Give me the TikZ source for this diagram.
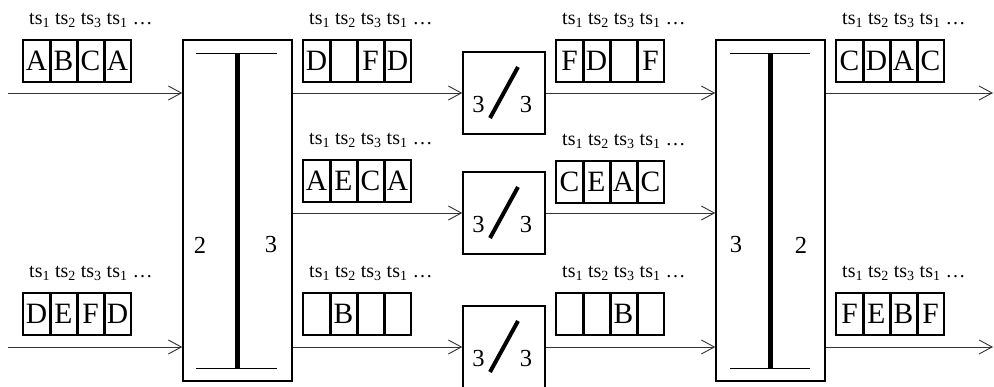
\documentclass[tikz,border=0pt]{standalone}
\usepackage{fontspec}
\setmainfont{Liberation Serif}
\usetikzlibrary{arrows.meta}

% one frame of four time slots with its ts-label above
% #1 name, #2 left x, #3 top y, #4-#7 slot contents
\newcommand\slotrow[7]{%
  \node[cell] (#1a) at ({#2+13.5},{#3+21}) {#4};
  \node[cell] (#1b) at ({#2+40.5},{#3+21}) {#5};
  \node[cell] (#1c) at ({#2+67.5},{#3+21}) {#6};
  \node[cell] (#1d) at ({#2+94.5},{#3+21}) {#7};
  \foreach \s in {a,b,c}{\draw[divider] (#1\s.north east) -- (#1\s.south east);}
  \node[tslabel] (#1t) at ({#2+6},{#3-20})
    {ts\textsubscript{1} ts\textsubscript{2} ts\textsubscript{3} ts\textsubscript{1} \ldots};
}

% time-slot interchange: box with "3 / 3"
\newcommand\tsibox[3]{% name, centre x, centre y
  \node[swbox] (#1) at (#2,#3) {};
  \draw[line width=4pt] ({#2-14},{#3+25}) -- ({#2+14},{#3-26});
  \node[digit] (#1l) at ({#2-25.5},{#3+12}) {3};
  \node[digit] (#1r) at ({#2+22},{#3+12}) {3};
}

\begin{document}
\begin{tikzpicture}[x=1pt,y=-1pt,
  conn/.style={draw=black!80, line width=0.9pt,
    -{Straight Barb[length=13pt,width=14pt,line width=0.9pt]}},
  bigbox/.style={draw, line width=1.5pt, minimum width=109pt,
    minimum height=341pt, inner sep=0pt},
  swbox/.style={draw, line width=1.5pt, minimum width=82pt,
    minimum height=82pt, inner sep=0pt},
  cell/.style={draw, line width=1.4pt, minimum width=27pt, minimum height=42pt,
    inner sep=0pt, font=\fontsize{29.5}{31}\selectfont},
  divider/.style={line width=2.6pt},
  tslabel/.style={anchor=west, inner sep=0pt, font=\fontsize{20}{22}\selectfont},
  digit/.style={inner sep=0pt, font=\fontsize{24.5}{26}\selectfont},
  bar/.style={line width=1pt},
  spine/.style={line width=5pt},
]
\useasboundingbox (0,0) rectangle (994,387);

% space switches (2 -> 3 and 3 -> 2)
\node[bigbox] (lsw) at (237.5,210.5) {};
\draw[bar] (196,54) -- (277,54);
\draw[bar] (196,369) -- (277,369);
\draw[spine] (237,54) -- (237,369);
\node[digit] (lin) at (200,245) {2};
\node[digit] (lout) at (271,245) {3};

\node[bigbox] (rsw) at (770.5,210.5) {};
\draw[bar] (730,54) -- (810,54);
\draw[bar] (730,369) -- (810,369);
\draw[spine] (770,54) -- (770,369);
\node[digit] (rin) at (736,245) {3};
\node[digit] (rout) at (801,245) {2};

% time-slot interchanges
\tsibox{t1}{504}{93}
\tsibox{t2}{504}{213}
\tsibox{t3}{504}{347}

% free ends of the trunk lines
\coordinate (in1) at (8,93);
\coordinate (in2) at (8,347);
\coordinate (out1) at (993,93);
\coordinate (out2) at (993,347);

% connectors
\draw[conn] (in1) -- (in1 -| lsw.west);
\draw[conn] (in2) -- (in2 -| lsw.west);
\draw[conn] (t1.west -| lsw.east) -- (t1.west);
\draw[conn] (t2.west -| lsw.east) -- (t2.west);
\draw[conn] (t3.west -| lsw.east) -- (t3.west);
\draw[conn] (t1.east) -- (t1.east -| rsw.west);
\draw[conn] (t2.east) -- (t2.east -| rsw.west);
\draw[conn] (t3.east) -- (t3.east -| rsw.west);
\draw[conn] (out1 -| rsw.east) -- (out1);
\draw[conn] (out2 -| rsw.east) -- (out2);

% frames
\slotrow{fa}{23}{40}{A}{B}{C}{A}
\slotrow{fb}{23}{293}{D}{E}{F}{D}
\slotrow{fc}{303}{40}{D}{}{F}{D}
\slotrow{fd}{303}{160}{A}{E}{C}{A}
\slotrow{fe}{303}{293}{}{B}{}{}
\slotrow{ff}{556}{40}{F}{D}{}{F}
\slotrow{fg}{556}{161}{C}{E}{A}{C}
\slotrow{fh}{556}{293}{}{}{B}{}
\slotrow{fi}{836}{40}{C}{D}{A}{C}
\slotrow{fj}{836}{293}{F}{E}{B}{F}
\end{tikzpicture}
\end{document}
